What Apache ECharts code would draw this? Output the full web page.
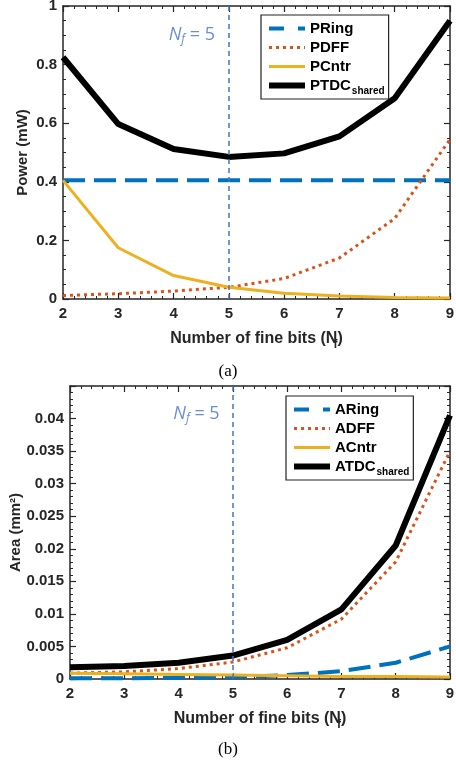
<!DOCTYPE html>
<html><head><meta charset="utf-8">
<script src="https://cdn.jsdelivr.net/npm/echarts@6/dist/echarts.min.js"></script>
<style>html,body{margin:0;padding:0;background:#fff}#c{width:456px;height:764px}</style>
</head><body><div id="c"></div>
<script>
var bits = [2, 3, 4, 5, 6, 7, 8, 9];
var pRing = [0.405, 0.405, 0.405, 0.405, 0.405, 0.405, 0.405, 0.405];
var pDFF = [0.012, 0.018, 0.027, 0.040, 0.070, 0.140, 0.275, 0.545];
var pCntr = [0.405, 0.175, 0.080, 0.040, 0.020, 0.010, 0.005, 0.003];
var pTDC = [0.825, 0.597, 0.512, 0.485, 0.497, 0.555, 0.685, 0.950];
var aRing = [0.0001, 0.0001, 0.0002, 0.0003, 0.0006, 0.0012, 0.0025, 0.0050];
var aDFF = [0.0009, 0.0011, 0.0016, 0.0026, 0.0048, 0.0092, 0.0180, 0.0350];
var aCntr = [0.0009, 0.0008, 0.0007, 0.0006, 0.0005, 0.0004, 0.0004, 0.0003];
var aTDC = [0.0018, 0.0020, 0.0025, 0.0036, 0.0060, 0.0107, 0.0205, 0.0405];
var markerBits = 5;

var BLUE = '#0072BD', ORANGE = '#D95319', YELLOW = '#EDB120', BLACK = '#000000';
var AX = '#262626';
var FONT = 'Liberation Sans, Arial, sans-serif';
function pairs(v) { return bits.map(function (b, i) { return [b, v[i]]; }); }

var styles = {
  Ring: { color: BLUE, width: 4, type: [22, 9] },
  DFF: { color: ORANGE, width: 3, type: [3, 4] },
  Cntr: { color: YELLOW, width: 3, type: 'solid' },
  TDC: { color: BLACK, width: 6, type: 'solid' }
};

function axisCommon(show) {
  return {
    show: true,
    axisLine: { show: true, onZero: false, lineStyle: { color: AX, width: 1.5 } },
    axisTick: { show: true, inside: true, length: 6, lineStyle: { color: AX, width: 1.2 } },
    minorTick: { show: true, length: 3, lineStyle: { color: AX, width: 1 } },
    splitLine: { show: false },
    axisLabel: { show: show, color: AX, fontFamily: FONT, fontWeight: 'bold', fontSize: 15 }
  };
}
function xAx(grid, pos, show) {
  var a = axisCommon(show);
  a.type = 'value'; a.gridIndex = grid; a.position = pos; a.min = 2; a.max = 9; a.interval = 1;
  a.minorTick.splitNumber = 5;
  a.axisLabel.margin = 7;
  if (show) {
    a.name = '{t|Number of fine bits (N}{s|f}{t|)}';
    a.nameLocation = 'middle'; a.nameGap = 28; a.nameMoveOverlap = false;
    a.nameTextStyle = { rich: {
      t: { fontFamily: FONT, fontWeight: 'bold', fontSize: 16, color: AX },
      s: { fontFamily: FONT, fontWeight: 'bold', fontSize: 12, color: AX, padding: [12, 0, 0, -4] } } };
  }
  return a;
}
function yAx(grid, pos, show, max, interval, split, name, gap) {
  var a = axisCommon(show);
  a.type = 'value'; a.gridIndex = grid; a.position = pos; a.min = 0; a.max = max; a.interval = interval;
  a.minorTick.splitNumber = split;
  a.axisLabel.margin = 6;
  a.axisLabel.formatter = function (v) {
    if (v > 0.0405 && max < 0.1) return '';
    return v === 0 ? '0' : String(parseFloat(v.toFixed(4)));
  };
  if (show) {
    a.name = name; a.nameLocation = 'middle'; a.nameGap = gap; a.nameMoveOverlap = false;
    a.nameTextStyle = { fontFamily: FONT, fontWeight: 'bold', fontSize: 15, color: AX };
  }
  return a;
}
function line(name, key, data, grid) {
  var s = styles[key];
  return { name: name, type: 'line', xAxisIndex: grid * 2, yAxisIndex: grid * 2, data: pairs(data),
    symbol: 'none', lineStyle: { color: s.color, width: s.width, type: s.type, cap: 'butt' },
    itemStyle: { color: s.color }, z: 3 };
}
// invisible copy bound to the top/right frame axes so they are drawn
function frameSeries(grid, data) {
  return { type: 'line', xAxisIndex: grid * 2 + 1, yAxisIndex: grid * 2 + 1, data: pairs(data),
    symbol: 'none', silent: true, lineStyle: { opacity: 0 }, z: 0 };
}
function vline(grid, ytext, dx) {
  return { type: 'scatter', xAxisIndex: grid * 2, yAxisIndex: grid * 2, symbolSize: 0, silent: true,
    data: [[markerBits - dx, ytext]],
    label: { show: true, position: 'inside', formatter: '{n|N}{s|f}{t| = 5}',
      rich: {
        n: { fontFamily: 'Open Sans, DejaVu Sans, sans-serif', fontStyle: 'italic', fontSize: 18, color: '#4472C4' },
        s: { fontFamily: 'Open Sans, DejaVu Sans, sans-serif', fontStyle: 'italic', fontSize: 12, color: '#4472C4', padding: [9, 0, 0, 0] },
        t: { fontFamily: 'Open Sans, DejaVu Sans, sans-serif', fontSize: 18, color: '#4472C4' } } },
    markLine: { silent: true, symbol: 'none', label: { show: false },
      lineStyle: { color: '#4472C4', type: [5, 4], width: 1.5, opacity: 1 },
      data: [{ xAxis: markerBits }] } };
}
var legendRich = {
  t: { fontFamily: FONT, fontWeight: 'bold', fontSize: 15, color: '#000' },
  s: { fontFamily: FONT, fontWeight: 'bold', fontSize: 10, color: '#000', padding: [11, 0, 0, 1] }
};
function legendFmt(n) {
  if (n.indexOf('_shared') > 0) return '{t|' + n.replace('_shared', '') + '}{s|shared}';
  return '{t|' + n + '}';
}
function legendData(names, keys) {
  return names.map(function (n, i) {
    var s = styles[keys[i]];
    return { name: n, itemStyle: { opacity: 0 },
      lineStyle: { color: s.color, width: s.width, type: keys[i] === 'Ring' ? [15, 14] : s.type } };
  });
}
var keys = ['Ring', 'DFF', 'Cntr', 'TDC'];

var chart = echarts.init(document.getElementById('c'), null, { renderer: 'canvas' });
chart.setOption({
  animation: false,
  backgroundColor: '#fff',
  title: [
    { text: '(a)', left: 'center', top: 358, textStyle: { fontFamily: 'Liberation Serif, Times New Roman, serif', fontWeight: 'normal', fontSize: 17, color: '#000' } },
    { text: '(b)', left: 'center', top: 736, textStyle: { fontFamily: 'Liberation Serif, Times New Roman, serif', fontWeight: 'normal', fontSize: 17, color: '#000' } }
  ],
  grid: [
    { left: 63, right: 6, top: 6, height: 293, outerBoundsMode: 'none', containLabel: false },
    { left: 70, right: 6, top: 386, height: 293, outerBoundsMode: 'none', containLabel: false }
  ],
  legend: [
    { data: legendData(['PRing', 'PDFF', 'PCntr', 'PTDC_shared'], keys), orient: 'vertical', left: 261, top: 15,
      itemWidth: 36, itemHeight: 10, itemGap: 4, padding: [6, 4, 3, 5], borderColor: '#222', borderWidth: 1.2,
      backgroundColor: '#fff', formatter: legendFmt, textStyle: { rich: legendRich } },
    { data: legendData(['ARing', 'ADFF', 'ACntr', 'ATDC_shared'], keys), orient: 'vertical', left: 286, top: 396,
      itemWidth: 36, itemHeight: 10, itemGap: 4, padding: [6, 4, 3, 5], borderColor: '#222', borderWidth: 1.2,
      backgroundColor: '#fff', formatter: legendFmt, textStyle: { rich: legendRich } }
  ],
  xAxis: [ xAx(0, 'bottom', true), xAx(0, 'top', false), xAx(1, 'bottom', true), xAx(1, 'top', false) ],
  yAxis: [
    yAx(0, 'left', true, 1, 0.2, 4, 'Power (mW)', 33),
    yAx(0, 'right', false, 1, 0.2, 4),
    yAx(1, 'left', true, 0.045, 0.005, 5, 'Area (mm²)', 47),
    yAx(1, 'right', false, 0.045, 0.005, 5)
  ],
  series: [
    frameSeries(0, pTDC), frameSeries(1, aTDC),
    vline(0, 0.9, 0.67),
    line('PRing', 'Ring', pRing, 0),
    line('PDFF', 'DFF', pDFF, 0),
    line('PCntr', 'Cntr', pCntr, 0),
    line('PTDC_shared', 'TDC', pTDC, 0),
    vline(1, 0.0407, 0.67),
    line('ARing', 'Ring', aRing, 1),
    line('ADFF', 'DFF', aDFF, 1),
    line('ACntr', 'Cntr', aCntr, 1),
    line('ATDC_shared', 'TDC', aTDC, 1)
  ]
});
</script></body></html>
